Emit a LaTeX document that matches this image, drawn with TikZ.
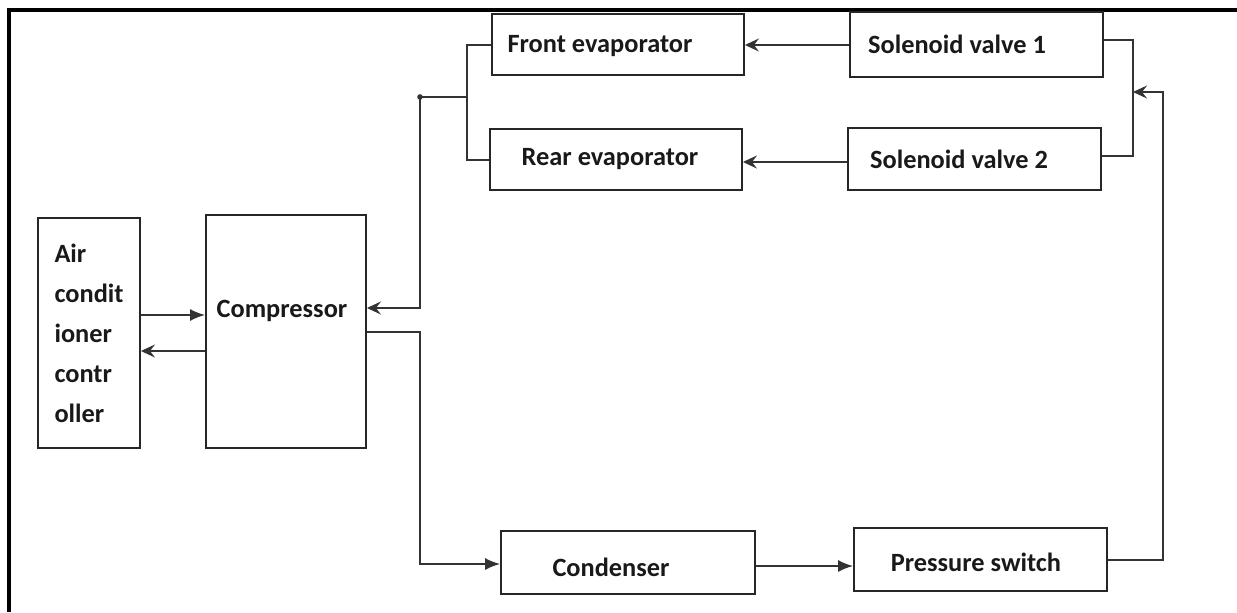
\documentclass[tikz,border=0pt]{standalone}
\usepackage{fontspec}
\setmainfont{Carlito}
\usetikzlibrary{positioning, arrows.meta}

\tikzset{
  unit/.style={draw=black!85, line width=1.1pt, minimum width=5.06cm, minimum height=1.24cm},
  lbl/.style={font=\bfseries\fontsize{15}{18}\selectfont, text=black!90},
  pipe/.style={draw=black!80, line width=0.9pt},
  fwd/.style={pipe, -{Latex[length=0.3cm, width=0.24cm]}},
  back/.style={pipe, -{Stealth[length=0.28cm, width=0.26cm, inset=0.1cm]}},
}

\begin{document}
\begin{tikzpicture}[x=0.02cm, y=-0.02cm]
\useasboundingbox (0,0) rectangle (1237,612);
% frame, only top and left edges
\draw[line width=1.8pt] (9,612) -- (9,10) -- (1237,10);

% blocks
\node (ctrl) [unit, minimum width=2.04cm, minimum height=4.6cm, lbl, align=left,
  font=\bfseries\fontsize{15}{22.8}\selectfont] at (89,333) {Air\\condit\\ioner\\contr\\oller};
\node (comp) [unit, minimum width=3.2cm, minimum height=4.66cm,
  label={[lbl, xshift=-0.08cm, yshift=0.42cm]center:Compressor}] at (286,331.5) {};
\node (front) [unit, minimum width=5.04cm, minimum height=1.22cm,
  label={[lbl, xshift=-0.36cm, yshift=-0.03cm]center:Front evaporator}] at (618,44.5) {};
\node (rear) [unit, minimum width=5.04cm, minimum height=1.22cm,
  label={[lbl, xshift=-0.12cm]center:Rear evaporator}] at (616,159.5) {};
\node (sol1) [unit, minimum height=1.3cm,
  label={[lbl, xshift=-0.39cm]center:Solenoid valve 1}] at (976.5,44.5) {};
\node (sol2) [unit,
  label={[lbl, xshift=-0.31cm]center:Solenoid valve 2}] at (974.5,159) {};
\node (cond) [unit, minimum width=5.08cm, minimum height=1.26cm,
  label={[lbl, xshift=-0.34cm, yshift=-0.09cm]center:Condenser}] at (628,562.5) {};
\node (press) [unit, minimum height=1.26cm,
  label={[lbl, xshift=-0.09cm, yshift=-0.05cm]center:Pressure switch}] at (980.5,559.5) {};

% controller <-> compressor
\draw[fwd] (ctrl.east |- 0,315) -- (comp.west |- 0,315);
\draw[back] (comp.west |- 0,351) -- (ctrl.east |- 0,351);

% suction line from the evaporators
\coordinate (tee) at (420,97);
\coordinate (split) at (467,97);
\fill[black!80] (tee) circle (1.6pt);
\draw[pipe] (tee) -- (split);
\draw[pipe] (front.west |- 0,45) -| (split) |- (rear.west |- 0,160);
\draw[back] (tee) -- (tee |- 0,308) -- (comp.east |- 0,308);

% discharge line to condenser and pressure switch
\coordinate (drop) at (420,564);
\draw[fwd] (comp.east |- 0,332) -| (drop) -- (cond.west |- 0,564);
\draw[fwd] (cond.east |- 0,566) -- (press.west |- 0,566);

% back up to the solenoid valves
\coordinate (ret) at (1163,92);
\coordinate (feed) at (1133,92);
\draw[back] (press.east |- 0,560) -| (ret) -- (feed);
\draw[pipe] (sol1.east |- 0,40) -| (feed) |- (sol2.east |- 0,156);
\draw[back] (sol1.west |- 0,45) -- (front.east |- 0,45);
\draw[back] (sol2.west |- 0,162) -- (rear.east |- 0,162);
\end{tikzpicture}
\end{document}
